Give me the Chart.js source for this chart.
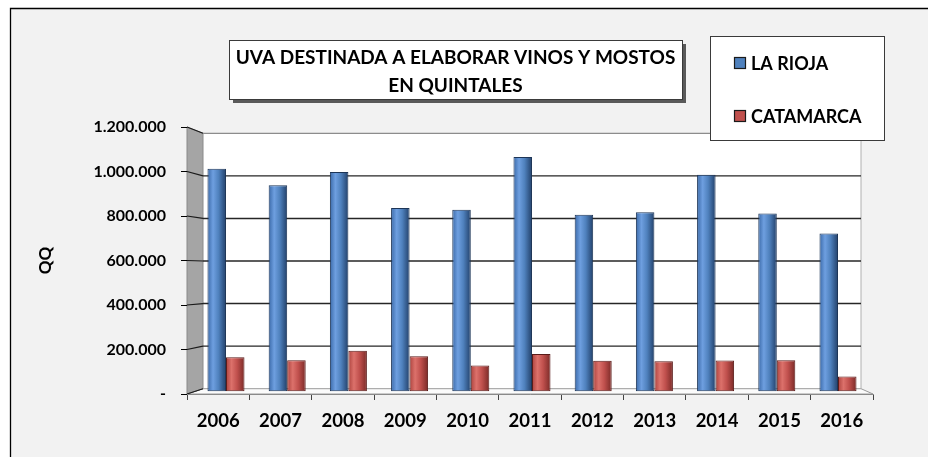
<!DOCTYPE html>
<html><head><meta charset="utf-8">
<script src="https://cdn.jsdelivr.net/npm/chart.js@4.4.0/dist/chart.umd.min.js"></script>
<style>html,body{margin:0;padding:0;background:#fff;}canvas{display:block;}</style>
</head><body>
<canvas id="c" width="928" height="457"></canvas>
<script>
// ---- data ----
const years = ['2006','2007','2008','2009','2010','2011','2012','2013','2014','2015','2016'];
const laRioja = [1023000, 947000, 1008000, 843000, 835000, 1077000, 812000, 823000, 996000, 818000, 725000];
const catamarca = [157000, 143000, 186000, 161000, 119000, 172000, 140000, 138000, 142000, 143000, 68000];
const yTickValues = [0, 200000, 400000, 600000, 800000, 1000000, 1200000];
const seriesNames = ['LA RIOJA', 'CATAMARCA'];
const titleLines = ['UVA DESTINADA A ELABORAR VINOS Y MOSTOS', 'EN QUINTALES'];
const yAxisTitle = 'QQ';

// ---- styles ----
const FONT = 'Lato, "Open Sans", sans-serif';
const seriesColors = ['#4f81bd', '#c0504d'];
const seriesStops = [
  ['#3a69a8', '#6e9fe0', '#4f81bd', '#22406a'],
  ['#ad433e', '#dc716b', '#c0504d', '#7a2a27']
];
const seriesBorders = ['#1d3557', '#5a1b19'];
const CAT_PCT = 0.605;
const DEPTH_L = 16, DEPTH_R = 12;

function fmt(v) {
  if (v === 0) return '-';
  return String(v).replace(/\B(?=(\d{3})+(?!\d))/g, '.');
}

function cylinder(di) {
  return (ctx) => {
    const chart = ctx.chart;
    const xs = chart.scales.xb;
    if (!xs || ctx.type !== 'data' || !chart.chartArea) return seriesColors[di];
    const c = xs.getPixelForValue(ctx.dataIndex);
    const gap = Math.abs(xs.getPixelForValue(1) - xs.getPixelForValue(0));
    const w = gap * CAT_PCT / 2;
    const l = di === 0 ? c - w : c;
    const r = l + w;
    const g = chart.ctx.createLinearGradient(l, 0, r, 0);
    const s = seriesStops[di];
    g.addColorStop(0, s[0]);
    g.addColorStop(0.3, s[1]);
    g.addColorStop(0.6, s[2]);
    g.addColorStop(1, s[3]);
    return g;
  };
}

const framePlugin = {
  id: 'frame3d',
  beforeDraw(chart) {
    const ctx = chart.ctx;
    const {x, y, yg} = chart.scales;
    ctx.save();
    ctx.fillStyle = '#ffffff';
    ctx.fillRect(0, 0, chart.width, chart.height);
    ctx.fillStyle = '#f2f2f2';
    ctx.fillRect(10, 8, chart.width - 10, chart.height - 8);
    ctx.strokeStyle = '#000';
    ctx.lineWidth = 1.3;
    ctx.beginPath();
    ctx.moveTo(10.5, chart.height); ctx.lineTo(10.5, 8.5); ctx.lineTo(chart.width, 8.5);
    ctx.stroke();

    const fl = x.left, fr = x.right;
    const bl = fl + DEPTH_L, br = fr - DEPTH_R;
    const top = yTickValues[yTickValues.length - 1];
    ctx.fillStyle = '#ffffff';
    ctx.fillRect(bl, yg.getPixelForValue(top), br - bl, yg.getPixelForValue(0) - yg.getPixelForValue(top));
    ctx.beginPath();
    ctx.moveTo(fl, y.getPixelForValue(0));
    ctx.lineTo(fr, y.getPixelForValue(0));
    ctx.lineTo(br, yg.getPixelForValue(0));
    ctx.lineTo(bl, yg.getPixelForValue(0));
    ctx.closePath();
    ctx.fillStyle = '#fbfbfb';
    ctx.fill();
    ctx.strokeStyle = '#9a9a9a';
    ctx.lineWidth = 1;
    ctx.stroke();
    ctx.beginPath();
    ctx.moveTo(fl, y.getPixelForValue(top));
    ctx.lineTo(bl, yg.getPixelForValue(top));
    ctx.lineTo(bl, yg.getPixelForValue(0));
    ctx.lineTo(fl, y.getPixelForValue(0));
    ctx.closePath();
    ctx.fillStyle = '#a5a5a5';
    ctx.fill();
    ctx.strokeStyle = '#8a8a8a';
    ctx.stroke();
    ctx.beginPath();
    ctx.moveTo(br, yg.getPixelForValue(top));
    ctx.lineTo(br, yg.getPixelForValue(0));
    ctx.strokeStyle = '#b0b0b0';
    ctx.stroke();
    yTickValues.forEach(v => {
      const yb = yg.getPixelForValue(v);
      const yf = y.getPixelForValue(v);
      ctx.beginPath();
      ctx.moveTo(fl, yf);
      ctx.lineTo(bl, yb);
      ctx.strokeStyle = '#1a1a1a';
      ctx.lineWidth = 1.2;
      ctx.stroke();
      if (v === 0) return;
      ctx.beginPath();
      ctx.moveTo(bl, yb);
      ctx.lineTo(br, yb);
      ctx.strokeStyle = v === top ? '#8c8c8c' : '#262626';
      ctx.lineWidth = v === top ? 1.2 : 1.4;
      ctx.stroke();
    });
    ctx.restore();
  },
  afterDraw(chart) {
    const ctx = chart.ctx;
    ctx.save();
    const tx = 229, ty = 40, tw = 453, th = 59;
    ctx.fillStyle = '#5a5a5a';
    ctx.fillRect(tx + 4, ty + 4, tw, th);
    ctx.fillStyle = '#fff';
    ctx.fillRect(tx, ty, tw, th);
    ctx.strokeStyle = '#3a3a3a';
    ctx.lineWidth = 1;
    ctx.strokeRect(tx + 0.5, ty + 0.5, tw, th);
    ctx.fillStyle = '#000';
    ctx.font = 'bold 19px ' + FONT;
    ctx.textAlign = 'center';
    ctx.textBaseline = 'middle';
    ctx.fillText(titleLines[0], tx + tw / 2, 58);
    ctx.fillText(titleLines[1], tx + tw / 2, 86);
    const lx = 710.5, ly = 36.5, lw = 174, lh = 104;
    ctx.fillStyle = '#fff';
    ctx.fillRect(lx, ly, lw, lh);
    ctx.strokeStyle = '#3a3a3a';
    ctx.strokeRect(lx, ly, lw, lh);
    const rows = [63, 116];
    chart.data.datasets.forEach((ds, i) => {
      ctx.fillStyle = seriesColors[i];
      ctx.fillRect(734, rows[i] - 6, 12, 12);
      ctx.strokeStyle = '#1a1a1a';
      ctx.lineWidth = 1.2;
      ctx.strokeRect(734.5, rows[i] - 5.5, 11, 11);
      ctx.fillStyle = '#000';
      ctx.textAlign = 'left';
      ctx.font = 'bold 18px ' + FONT;
      ctx.fillText(ds.label, 751, rows[i] + 1);
    });
    ctx.restore();
  }
};

const datasets = [laRioja, catamarca].map((vals, i) => ({
  label: seriesNames[i],
  data: vals.map((v, k) => ({x: k, y: v})),
  xAxisID: 'xb',
  yAxisID: 'yb',
  backgroundColor: cylinder(i),
  borderColor: seriesBorders[i],
  borderWidth: 1,
  borderSkipped: false,
  categoryPercentage: CAT_PCT,
  barPercentage: 1.0
}));

new Chart(document.getElementById('c'), {
  type: 'bar',
  data: { labels: years, datasets },
  options: {
    responsive: false,
    devicePixelRatio: 1,
    animation: false,
    layout: { padding: { top: 127, right: 55, bottom: 0, left: 0 } },
    plugins: { legend: { display: false }, title: { display: false }, tooltip: { enabled: false } },
    scales: {
      x: {
        type: 'category',
        position: 'bottom',
        offset: true,
        grid: { offset: true, drawOnChartArea: false, drawTicks: true, tickLength: 6, color: '#444' },
        border: { display: true, color: '#8a8a8a', width: 1 },
        ticks: { padding: 10, color: '#000', font: { family: FONT, weight: 'bold', size: 18.5 }, maxRotation: 0 },
        afterFit: s => { s.height = 63; }
      },
      xb: { type: 'linear', display: false, min: -0.637, max: 10.572, offset: false },
      y: {
        position: 'left',
        min: 0, max: 1200000,
        afterBuildTicks: s => { s.ticks = yTickValues.map(v => ({value: v})); },
        grid: { drawOnChartArea: false, drawTicks: true, tickLength: 6, color: '#000' },
        border: { display: false },
        ticks: { padding: 15, color: '#000', font: { family: FONT, weight: 'bold', size: 16 }, callback: v => fmt(v) },
        title: { display: true, text: yAxisTitle, color: '#000', font: { family: FONT, weight: 'bold', size: 17 }, padding: { top: 35, bottom: 0 } },
        afterFit: s => { s.width = 187; }
      },
      yb: { type: 'linear', display: false, min: -12400, max: 1215200 },
      yg: { type: 'linear', display: false, min: -24900, max: 1229600 }
    }
  },
  plugins: [framePlugin]
});
</script>
</body></html>
